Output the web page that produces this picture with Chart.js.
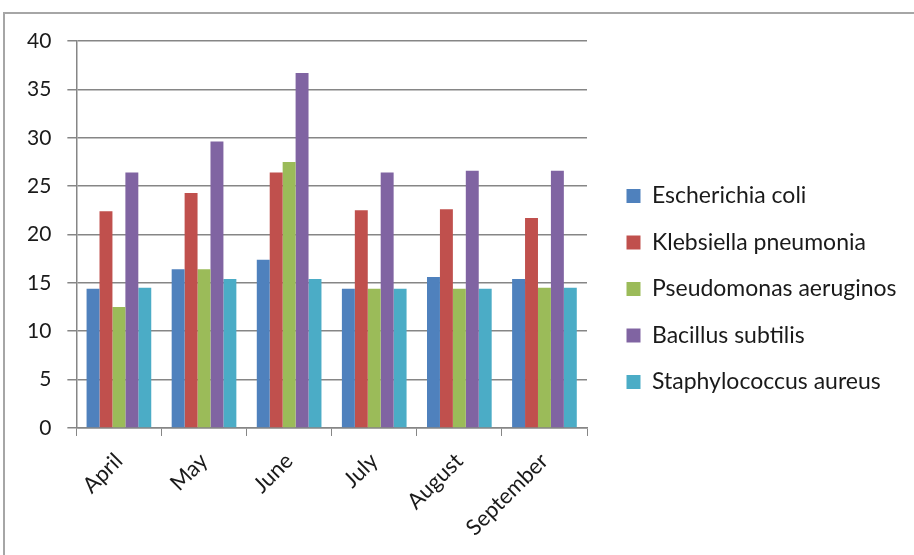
<!DOCTYPE html>
<html>
<head>
<meta charset="utf-8">
<script src="https://cdn.jsdelivr.net/npm/chart.js@4/dist/chart.umd.min.js"></script>
<style>
  body { margin: 0; background: #fff; }
  #wrap { width: 914px; height: 555px; position: relative; }
</style>
</head>
<body>
<div id="wrap"><canvas id="myChart" width="914" height="555"></canvas></div>
<script>
const months = ["April", "May", "June", "July", "August", "September"];
const seriesNames = ["Escherichia coli", "Klebsiella pneumonia", "Pseudomonas aeruginos", "Bacillus subtilis", "Staphylococcus aureus"];
const ecoli = [14.4, 16.4, 17.4, 14.4, 15.6, 15.4];
const klebsiella = [22.4, 24.3, 26.4, 22.5, 22.6, 21.7];
const pseudomonas = [12.5, 16.4, 27.5, 14.4, 14.4, 14.5];
const bacillus = [26.4, 29.6, 36.7, 26.4, 26.6, 26.6];
const staph = [14.5, 15.4, 15.4, 14.4, 14.4, 14.5];
const yTicks = [0, 5, 10, 15, 20, 25, 30, 35, 40];

const colors = ["#4F81BD", "#C0504D", "#9BBB59", "#8064A2", "#4BACC6"];
const values = [ecoli, klebsiella, pseudomonas, bacillus, staph];

// outer frame like the office chart border
const frame = {
    id: "frame",
    beforeDraw(chart) {
        const c = chart.ctx;
        c.save();
        c.strokeStyle = "#a6a6a6";
        c.lineWidth = 2;
        c.strokeRect(4, 13, 1000, 1000);
        c.restore();
    },
    // nudge the legend box a little right and up
    afterLayout(chart) {
        const lg = chart.legend;
        if (!lg) return;
        lg.left += 16; lg.right += 16;
        lg.top -= 8; lg.bottom -= 8;
    }
};

const ctx = document.getElementById("myChart").getContext("2d");
const myChart = new Chart(ctx, {
    type: "bar",
    data: {
        labels: months,
        datasets: seriesNames.map((name, i) => ({
            label: name,
            data: values[i],
            backgroundColor: colors[i],
            borderWidth: 0,
            categoryPercentage: 0.76,
            barPercentage: 1.0,
        })),
    },
    options: {
        responsive: false,
        animation: false,
        layout: { padding: { left: 11, top: 41, right: 0, bottom: 2 } },
        plugins: {
            tooltip: { enabled: false },
            legend: {
                position: "right",
                labels: {
                    boxWidth: 14,
                    boxHeight: 14,
                    padding: 23.5,
                    color: "#1a1a1a",
                    font: { family: "Lato", size: 23 },
                },
            },
        },
        scales: {
            x: {
                grid: { display: true, drawOnChartArea: false, color: "#868686", tickLength: 8, offset: true },
                border: { color: "#868686", width: 1.5 },
                ticks: {
                    color: "#1a1a1a",
                    font: { family: "Lato", size: 22 },
                    minRotation: 45,
                    maxRotation: 45,
                    padding: 12,
                },
            },
            y: {
                min: 0,
                max: 40,
                afterBuildTicks: (axis) => { axis.ticks = yTicks.map((v) => ({ value: v })); },
                grid: { color: "#868686", lineWidth: 1.5, tickLength: 9 },
                border: { color: "#868686", width: 1.5 },
                ticks: {
                    color: "#1a1a1a",
                    font: { family: "Lato", size: 21 },
                    padding: 16,
                },
            },
        },
    },
    plugins: [frame],
});

// legend width is capped by the layout; force the reserved width
const lg = myChart.legend;
const fit0 = lg.fit.bind(lg);
lg.fit = function () { fit0(); this.width = 914 - 587; };
myChart.update();
</script>
</body>
</html>
